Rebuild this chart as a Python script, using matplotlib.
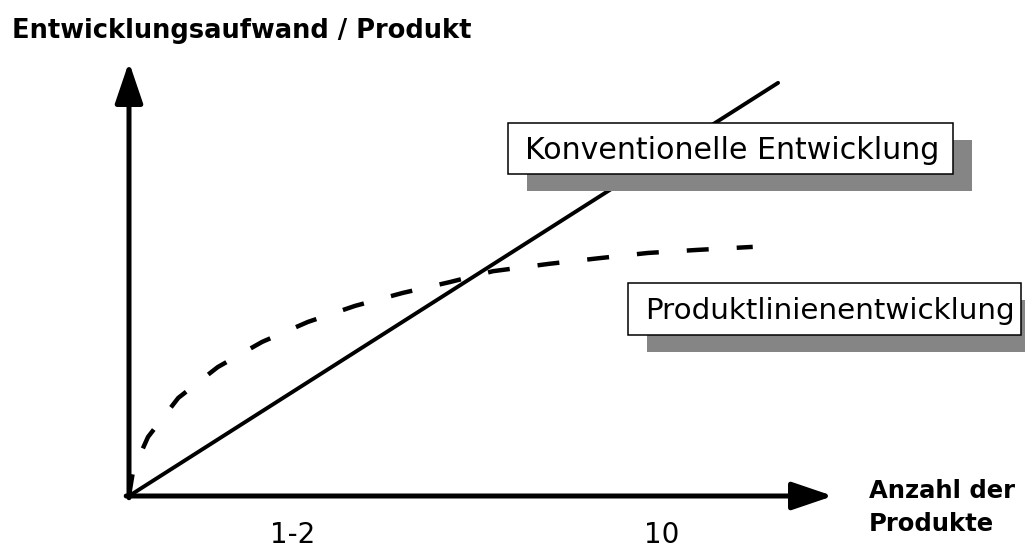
import matplotlib
matplotlib.use("Agg")
import matplotlib.pyplot as plt
import matplotlib.transforms as mtransforms
from matplotlib.patches import Rectangle

plt.rcParams['font.family'] = ['DejaVu Sans']
plt.rcParams['lines.scale_dashes'] = False

# conventional development: effort per product grows linearly
conv_x = [0.0, 0.922]
conv_y = [0.0, 0.952]

# product line development: steep start, then flattening out
pl_x = [0.0, 0.006, 0.027, 0.070, 0.126, 0.189, 0.254, 0.321, 0.389, 0.456,
        0.517, 0.597, 0.668, 0.737, 0.807, 0.886]
pl_y = [0.0, 0.060, 0.136, 0.226, 0.297, 0.355, 0.401, 0.438, 0.468, 0.493,
        0.518, 0.535, 0.548, 0.560, 0.567, 0.574]

tick_pos = [0.232, 0.756]
tick_labels = ['1-2', '10']

W, H = 1025, 548
fig = plt.figure(figsize=(W / 100, H / 100), dpi=100)
ax = fig.add_axes([129 / W, 1 - 496 / H, (833 - 129) / W, (496 - 62) / H])
ax.set_xlim(0, 1)
ax.set_ylim(0, 1)
for s in ax.spines.values():
    s.set_visible(False)
ax.set_yticks([])
ax.set_xticks(tick_pos, tick_labels, fontsize=20)
ax.tick_params(axis='x', length=0, pad=18)

# axes with arrow heads
arrow = dict(arrowstyle='-|>,head_length=25,head_width=8.5', lw=3.6, color='black',
             mutation_scale=1, shrinkA=0, shrinkB=0)
ax.annotate('', xy=(0, 1), xytext=(0, -0.004), arrowprops=arrow, annotation_clip=False)
ax.annotate('', xy=(1, 0), xytext=(-0.004, 0), arrowprops=arrow, annotation_clip=False)

ax.plot(conv_x, conv_y, color='black', lw=2.8, solid_capstyle='round', clip_on=False)
ax.plot(pl_x, pl_y, color='black', lw=3.2, dashes=(15.8, 20.2), clip_on=False)

fig.text(12 / W, 1 - 31 / H, 'Entwicklungsaufwand / Produkt', fontsize=18.5,
         fontweight='bold', va='center', ha='left')
fig.text(869 / W, 1 - 479 / H, 'Anzahl der\nProdukte', fontsize=17.5,
         fontweight='bold', va='top', ha='left', linespacing=1.45)

# boxes are given in pixel units of the figure
_px = mtransforms.Affine2D().scale(1 / W, 1 / H) + fig.transFigure


def box(left, top, right, bottom, text, size):
    # drop shadow, framed white box, then the label
    dx, dy = 19, 17
    fig.add_artist(Rectangle((left + dx, H - bottom - dy), right - left, bottom - top,
                             transform=_px, facecolor='#858585', edgecolor='none',
                             zorder=5))
    fig.add_artist(Rectangle((left, H - bottom), right - left, bottom - top,
                             transform=_px, facecolor='white', edgecolor='black',
                             lw=1.1, zorder=6))
    fig.text((left + 17) / W, 1 - (top + bottom) / 2 / H - 0.003, text, fontsize=size,
             va='center', ha='left', zorder=7)


box(508, 123, 953, 174, 'Konventionelle Entwicklung', 21.6)
box(628, 283, 1021, 335, 'Produktlinienentwicklung', 21.2)

fig.savefig('out.png', dpi=100)
